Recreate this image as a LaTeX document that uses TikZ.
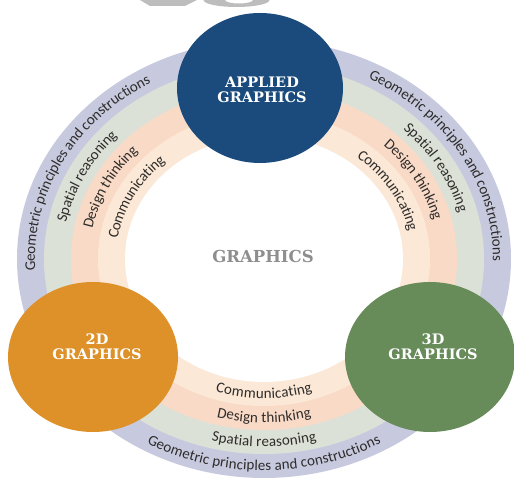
\documentclass[tikz,border=0pt]{standalone}
\usepackage{fontspec}
\usetikzlibrary{shapes.geometric,decorations.text}
\newfontfamily\ringfont{Carlito}
\newfontfamily\titlefont{DejaVu Serif}
\definecolor{lav}{HTML}{C7CADF}
\definecolor{sage}{HTML}{DCE1D7}
\definecolor{peach}{HTML}{F9DAC7}
\definecolor{cream}{HTML}{FBE8D6}
\definecolor{appblue}{HTML}{1B4B7C}
\definecolor{orng}{HTML}{DD9128}
\definecolor{grn}{HTML}{678B59}
\definecolor{ringtext}{HTML}{2E2C2A}
\definecolor{midgray}{HTML}{8E8E8E}
\definecolor{wm}{HTML}{BDBDBD}
\begin{document}
\begin{tikzpicture}[x=1pt,y=1pt,
  bubble/.style={ellipse, inner sep=0pt, draw=none, minimum width=168pt, minimum height=150pt},
  bubbletext/.style={text=white, align=center, font=\titlefont\bfseries\fontsize{14.5}{15}\selectfont},
  ringlabel/.style={decorate, decoration={text along path, text align=center, raise=-4.5pt,
     text={|\ringfont\fontsize{15}{17}\selectfont\color{ringtext}|#1}}}
]
\useasboundingbox (0,0) rectangle (514,481);
\fill[white] (0,0) rectangle (514,481);
% faint marks at the top edge
\fill[wm] (140,481) -- (197,481) -- (185,475) -- (150,475) -- cycle;
\fill[wm, even odd rule] (236.5,481) ellipse[x radius=33pt, y radius=7pt]
                         (239,481) ellipse[x radius=14pt, y radius=3.5pt];
% rings
\coordinate (C) at (264,222);
\fill[lav]   (C) ellipse[x radius=247pt, y radius=219pt];
\fill[sage]  (C) ellipse[x radius=220pt, y radius=195pt];
\fill[peach] (C) ellipse[x radius=193pt, y radius=171pt];
\fill[cream] (C) ellipse[x radius=166pt, y radius=147pt];
\fill[white] (C) ellipse[x radius=139pt, y radius=123pt];
% left arcs
\path[ringlabel={Geometric principles and constructions}] ([shift={(C)}]207.5:233.5pt and 207pt) arc[start angle=207.5, end angle=97.5, x radius=233.5pt, y radius=207pt];
\path[ringlabel={Spatial reasoning}] ([shift={(C)}]209:206.5pt and 183pt) arc[start angle=209, end angle=99, x radius=206.5pt, y radius=183pt];
\path[ringlabel={Design thinking}] ([shift={(C)}]209:179.5pt and 159pt) arc[start angle=209, end angle=99, x radius=179.5pt, y radius=159pt];
\path[ringlabel={Communicating}] ([shift={(C)}]208:152.5pt and 135pt) arc[start angle=208, end angle=98, x radius=152.5pt, y radius=135pt];
% right arcs
\path[ringlabel={Geometric principles and constructions}] ([shift={(C)}]85:233.5pt and 207pt) arc[start angle=85, end angle=-25, x radius=233.5pt, y radius=207pt];
\path[ringlabel={Spatial reasoning}] ([shift={(C)}]84:206.5pt and 183pt) arc[start angle=84, end angle=-26, x radius=206.5pt, y radius=183pt];
\path[ringlabel={Design thinking}] ([shift={(C)}]84:179.5pt and 159pt) arc[start angle=84, end angle=-26, x radius=179.5pt, y radius=159pt];
\path[ringlabel={Communicating}] ([shift={(C)}]85:152.5pt and 135pt) arc[start angle=85, end angle=-25, x radius=152.5pt, y radius=135pt];
% bottom arcs
\path[ringlabel={Geometric principles and constructions}] ([shift={(C)}]215:233.5pt and 207pt) arc[start angle=215, end angle=325, x radius=233.5pt, y radius=207pt];
\path[ringlabel={Spatial reasoning}] ([shift={(C)}]215:206.5pt and 183pt) arc[start angle=215, end angle=325, x radius=206.5pt, y radius=183pt];
\path[ringlabel={Design thinking}] ([shift={(C)}]215:179.5pt and 159pt) arc[start angle=215, end angle=325, x radius=179.5pt, y radius=159pt];
\path[ringlabel={Communicating}] ([shift={(C)}]215:152.5pt and 135pt) arc[start angle=215, end angle=325, x radius=152.5pt, y radius=135pt];
% centre title
\node[font=\titlefont\bfseries\fontsize{16.5}{18}\selectfont, text=midgray] (graphics) at (263,225) {GRAPHICS};
% bubbles
\node[bubble, fill=appblue, minimum width=166pt] (applied) at (260,393) {};
\node[bubbletext] (appliedtext) at (262,391) {APPLIED\\GRAPHICS};
\node[bubble, fill=orng, minimum width=170pt] (twod) at (93,124) {};
\node[bubbletext] (twodtext) at (97,134) {2D\\GRAPHICS};
\node[bubble, fill=grn, minimum width=170pt] (threed) at (430,124) {};
\node[bubbletext] (threedtext) at (433,134) {3D\\GRAPHICS};
\end{tikzpicture}
\end{document}
